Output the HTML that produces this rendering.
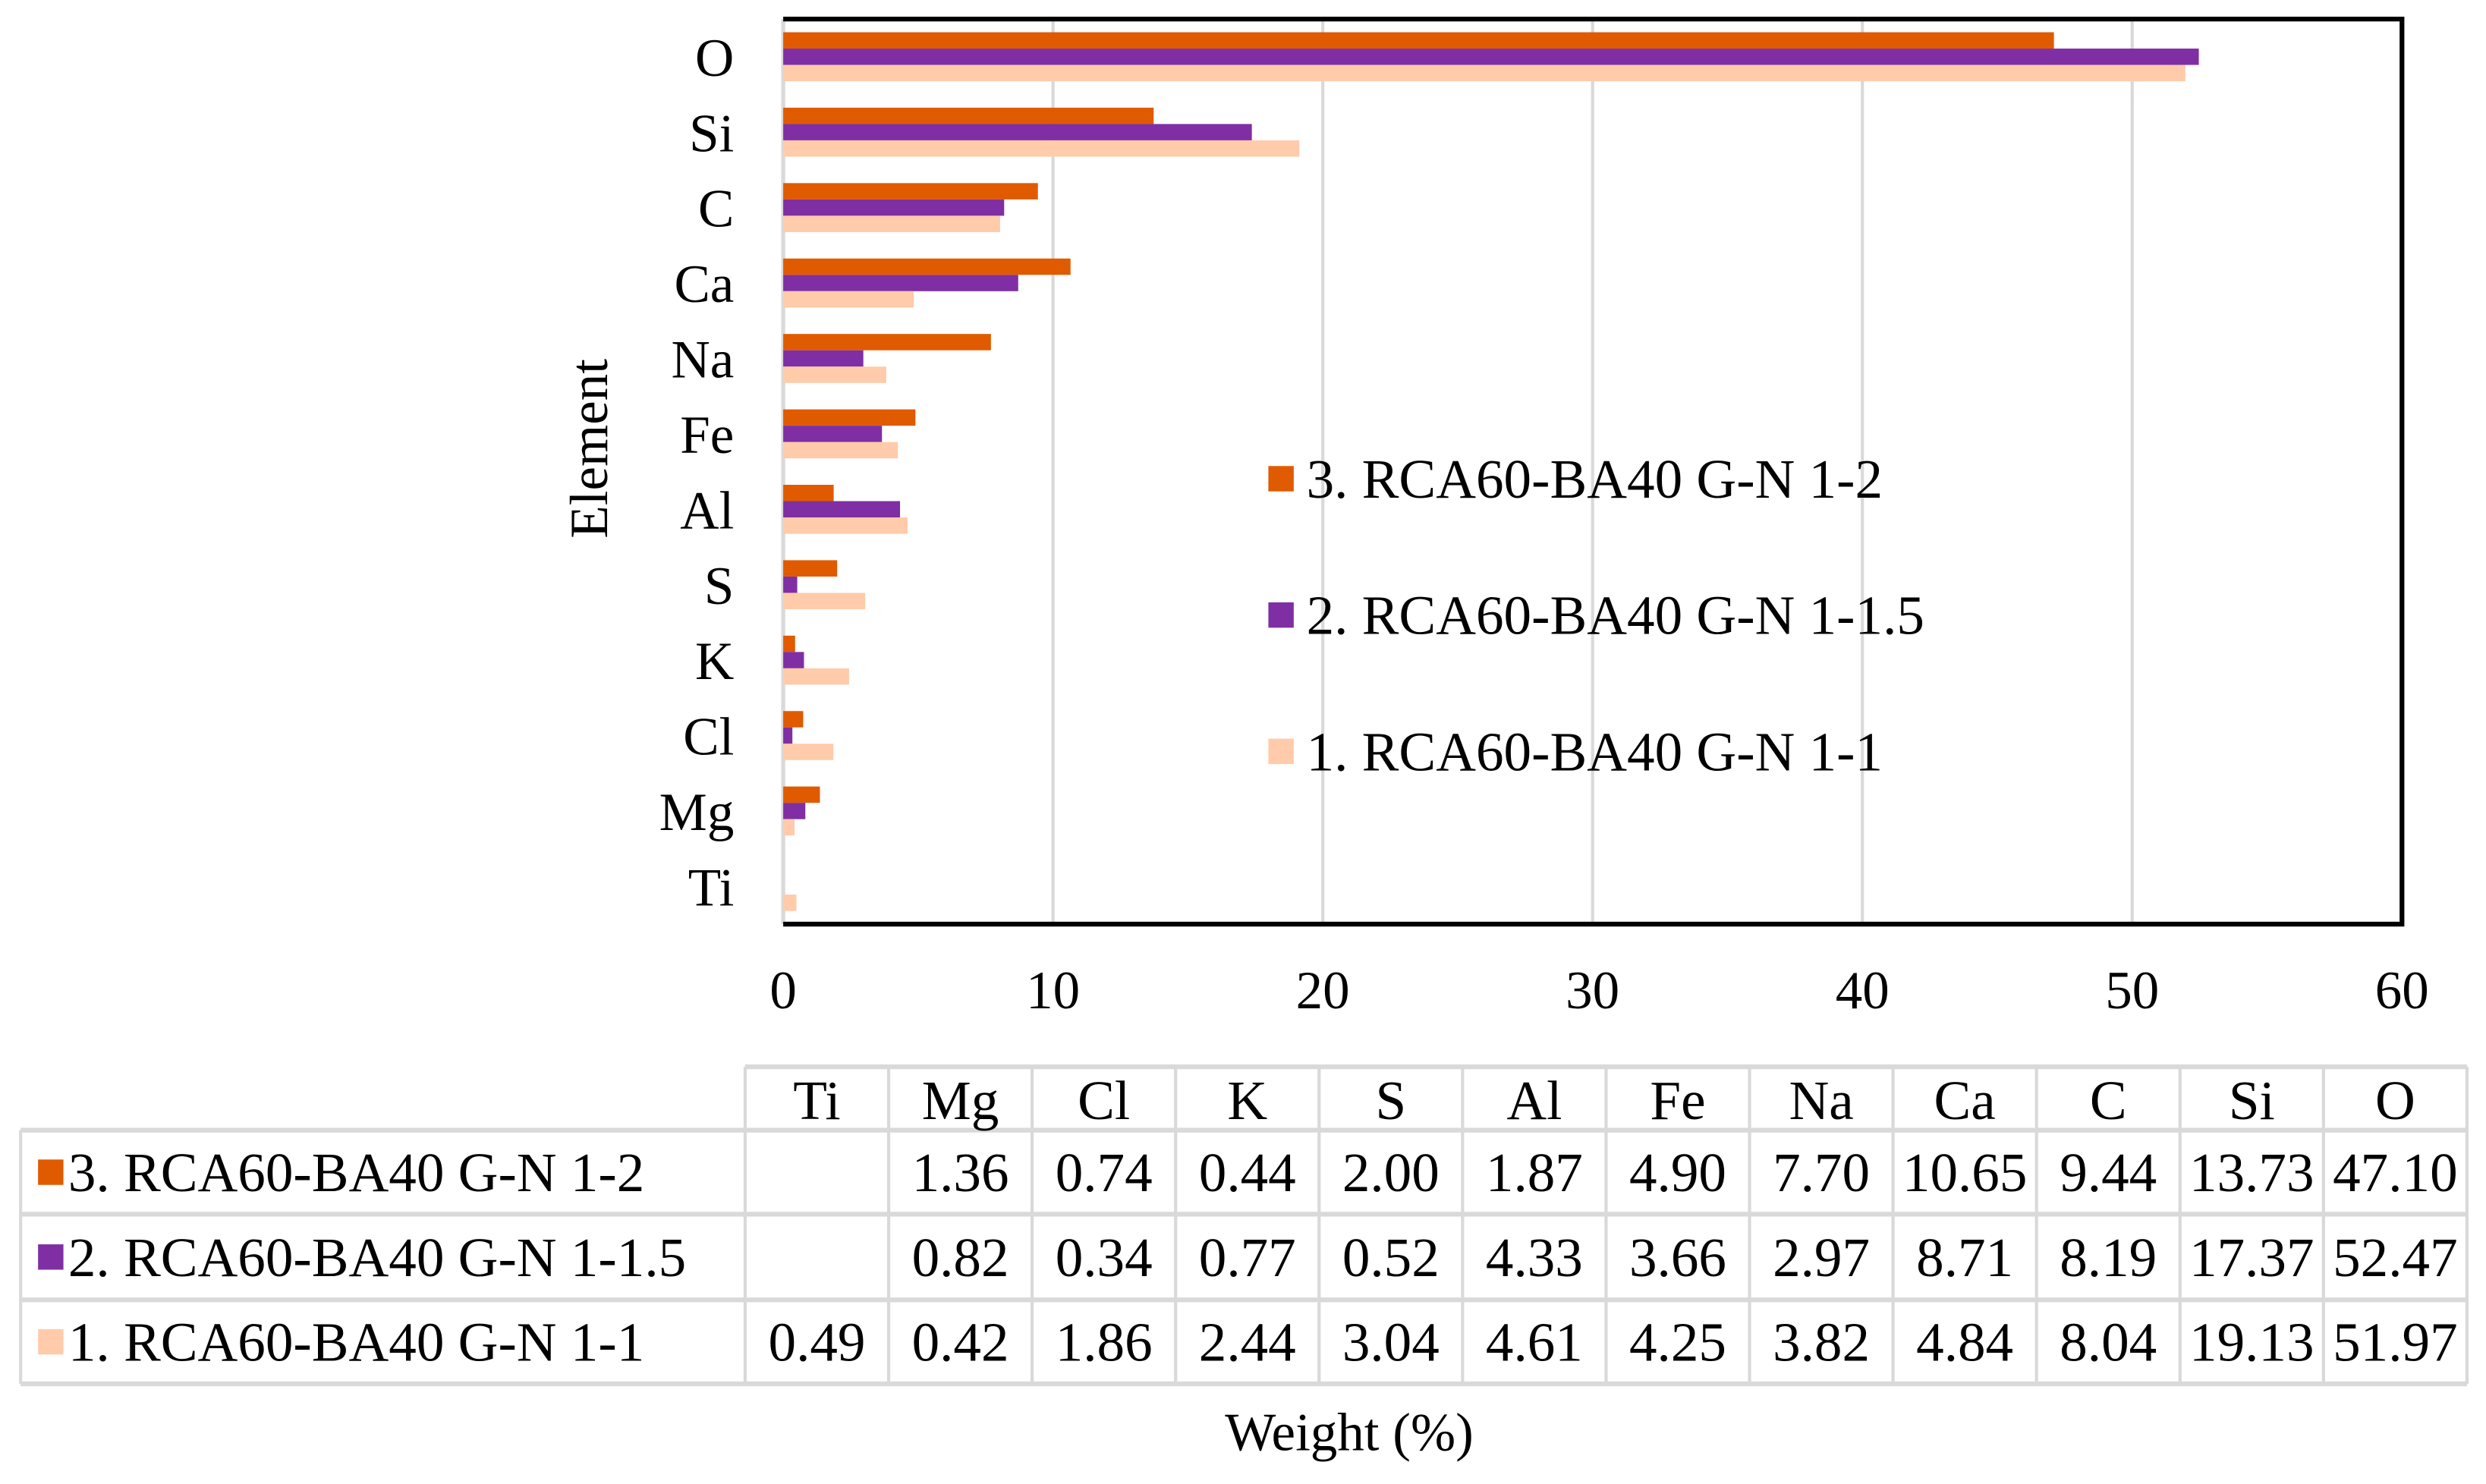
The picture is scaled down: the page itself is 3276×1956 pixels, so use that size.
<!DOCTYPE html>
<html><head><meta charset="utf-8"><style>
html,body{margin:0;padding:0;background:#fff;}
svg text{font-family:"Liberation Serif","Times New Roman",Times,"DejaVu Serif",serif !important;}
</style></head><body>
<svg id="chart" width="3276" height="1951" viewBox="0 0 1568 933.8" xmlns="http://www.w3.org/2000/svg"></svg>
<script>
const categories = ["O","Si","C","Ca","Na","Fe","Al","S","K","Cl","Mg","Ti"];
const series3 = [47.10,13.73,9.44,10.65,7.70,4.90,1.87,2.00,0.44,0.74,1.36,null];
const series2 = [52.47,17.37,8.19,8.71,2.97,3.66,4.33,0.52,0.77,0.34,0.82,null];
const series1 = [51.97,19.13,8.04,4.84,3.82,4.25,4.61,3.04,2.44,1.86,0.42,0.49];
const seriesNames = ["3. RCA60-BA40 G-N 1-2","2. RCA60-BA40 G-N 1-1.5","1. RCA60-BA40 G-N 1-1"];
const xTicks = [0,10,20,30,40,50,60];
const tableCols = ["Ti","Mg","Cl","K","S","Al","Fe","Na","Ca","C","Si","O"];

const colors = ["#E05A00","#7F2FA3","#FFCBAA"];
const NS = "http://www.w3.org/2000/svg";
const svg = document.getElementById("chart");
function mk(tag, attrs, text){const e=document.createElementNS(NS,tag);for(const k in attrs)e.setAttribute(k,attrs[k]);if(text!=null){e.textContent=text;e.style.fontFamily='"Liberation Serif","Times New Roman",Times,"DejaVu Serif",serif';}svg.appendChild(e);return e;}

const L=494,R=1515,T=12,B=583;
const xs = v => L + (v/60)*(R-L);
const band = (B-T)/categories.length;
const yc = i => T + band*i + band/2;
const barH = 10.3;
const FS = 34;
const FT = 35;

xTicks.forEach(t=>{
  if(t===0) return;
  const g=mk("line",{x1:xs(t),x2:xs(t),y1:T,y2:B,stroke:"#d9d9d9","stroke-width":2});
  
  
});
const la=mk("line",{x1:L,x2:L,y1:T,y2:B,stroke:"#d9d9d9","stroke-width":2.5});



const allSeries=[series3,series2,series1];
allSeries.forEach((s,si)=>{
  s.forEach((v,i)=>{
    if(v==null) return;
    const y=yc(i)-1.5*barH+si*barH;
    const r=mk("rect",{x:xs(0),y:y,width:xs(v)-xs(0),height:barH,fill:colors[si]});
    
    
  });
});

const bd=mk("path",{d:`M${L} ${T} H${R} V${B} H${L}`,fill:"none",stroke:"#000","stroke-width":3});



categories.forEach((c,i)=>{
  const t=mk("text",{x:463,y:yc(i)+12,"text-anchor":"end","font-size":FS},c);
  
  
});
xTicks.forEach(t=>{
  const e=mk("text",{x:xs(t),y:636,"text-anchor":"middle","font-size":FS},String(t));
  
  
});
const yt=mk("text",{x:0,y:0,"text-anchor":"middle","font-size":FS,transform:"translate(383,283) rotate(-90)"},"Element");



const legY=[302,388,474];
seriesNames.forEach((n,i)=>{
  const r=mk("rect",{x:800,y:legY[i]-8,width:16,height:16,fill:colors[i]});
  
  
  const t=mk("text",{x:824,y:legY[i]+12,"font-size":FT},n);
  
  
});

const tL=13, tC=470, colW=(1556-470)/12;
const rowY=[673,713,766,820,873];
const gray="#d9d9d9";
function ln(x1,y1,x2,y2,w){const l=mk("line",{x1,y1,x2,y2,stroke:gray,"stroke-width":w||2});}
ln(tC,rowY[0],1556,rowY[0],3);
for(let r=1;r<rowY.length;r++) ln(tL,rowY[r],1556,rowY[r],3);
ln(tL,rowY[1],tL,rowY[4]);
for(let c=0;c<=12;c++) ln(tC+c*colW,rowY[0],tC+c*colW,rowY[4]);
tableCols.forEach((c,ci)=>{
  const t=mk("text",{x:tC+colW*(ci+0.5),y:rowY[0]+33,"text-anchor":"middle","font-size":FT},c);
  
  
});
allSeries.forEach((s,si)=>{
  const ymid=(rowY[si+1]+rowY[si+2])/2;
  const sw=mk("rect",{x:24,y:ymid-8,width:16,height:16,fill:colors[si]});
  
  
  const lb=mk("text",{x:43,y:ymid+12,"font-size":FT},seriesNames[si]);
  
  
  tableCols.forEach((c,ci)=>{
    const idx=categories.indexOf(c);
    const v=s[idx];
    if(v==null) return;
    const t=mk("text",{x:tC+colW*(ci+0.5),y:ymid+12,"text-anchor":"middle","font-size":FT},v.toFixed(2));
    
    
  });
});
const xt=mk("text",{x:851,y:915,"text-anchor":"middle","font-size":FS},"Weight (%)");


</script>
</body></html>
